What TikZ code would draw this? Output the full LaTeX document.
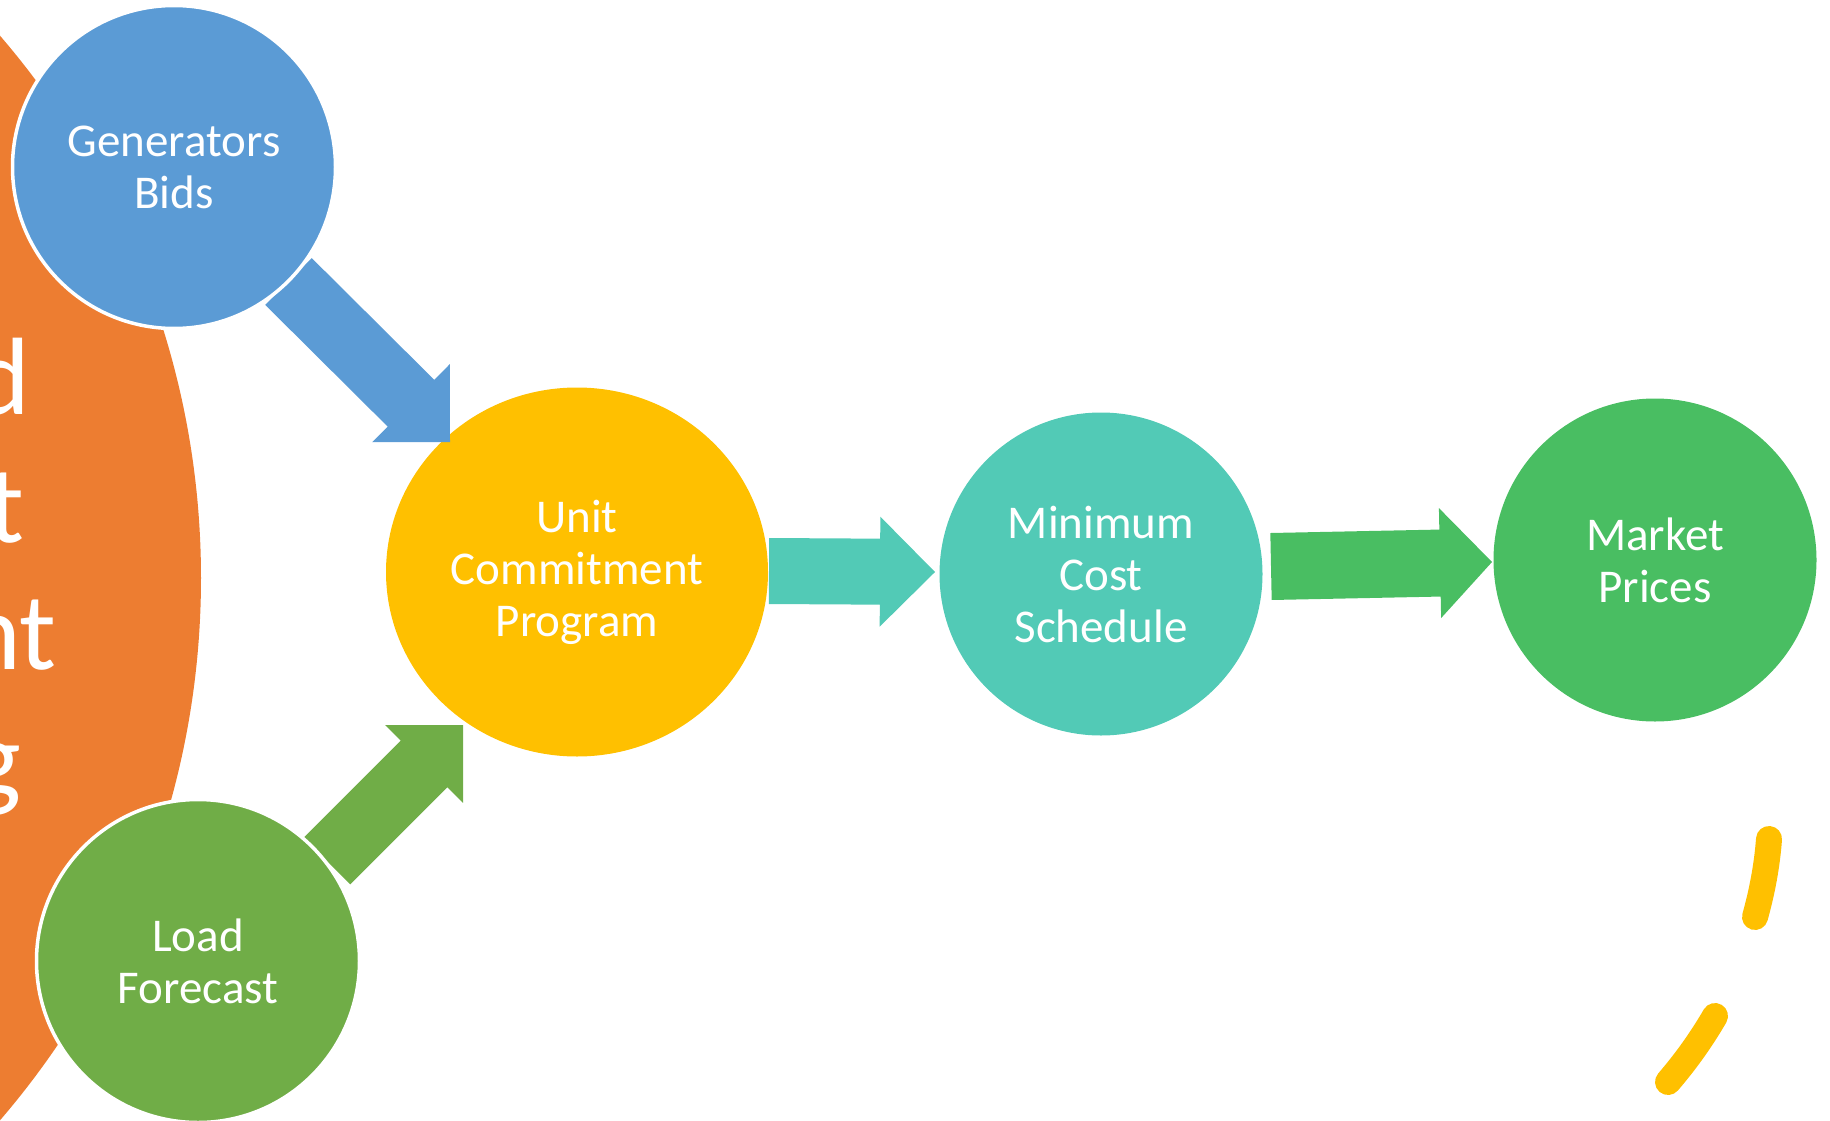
\documentclass[tikz,border=0pt]{standalone}
\usepackage{fontspec}
\setmainfont{Carlito}
\usetikzlibrary{calc,shapes.geometric}
\definecolor{corange}{HTML}{ED7D31}
\definecolor{cblue}{HTML}{5B9BD5}
\definecolor{cyellow}{HTML}{FFC000}
\definecolor{cgreen}{HTML}{70AD47}
\definecolor{cteal}{RGB}{82,202,182}
\definecolor{cmgreen}{RGB}{73,190,98}
% #1 name, #2 tail, #3 tip, #4 shaft half width, #5 head half width, #6 head length, #7 colour
\newcommand{\blockarr}[7]{%
  \coordinate (#1h) at ($(#3)!#6!(#2)$);
  \fill[#7] ($(#2)!#4!90:(#3)$) -- ($(#1h)!#4!90:(#3)$) -- ($(#1h)!#5!90:(#3)$)
    -- (#3) -- ($(#1h)!#5!-90:(#3)$) -- ($(#1h)!#4!-90:(#3)$) -- ($(#2)!#4!-90:(#3)$) -- cycle;
}
\begin{document}
\begin{tikzpicture}[x=1pt,y=-1pt,
  bubble/.style={circle, inner sep=0pt, text=white, align=center,
    font=\fontsize{47}{52}\selectfont, minimum size=323pt},
  bigtxt/.style={anchor=base east, inner sep=0pt, text=white,
    font=\fontsize{110}{127}\selectfont},
  dashline/.style={draw=cyellow, line width=26pt, line cap=round}]
\useasboundingbox (0,0) rectangle (1830,1121);
% big orange circle with clipped title
\fill[corange] (-631,578) circle[radius=832pt];
\node[bigtxt] (t1) at (30,414) {d};
\node[bigtxt] (t2) at (25,542) {t};
\node[bigtxt] (t3) at (57,669) {nt};
\node[bigtxt] (t4) at (21,796) {g};
% main nodes
\node[ellipse, fill=cyellow, inner sep=0pt, text=white, align=center,
  font=\fontsize{47}{52}\selectfont, minimum width=382pt, minimum height=369pt]
  (unit) at (577,572) {Unit\\Commitment\\Program};
\node[bubble, fill=cteal] (mincost) at (1101,574) {Minimum\\Cost\\Schedule};
\node[bubble, fill=cmgreen] (market) at (1655,560) {Market\\Prices};
% block arrows
\coordinate (a1t) at (288.5,281.5); \coordinate (a1p) at (450,442);
\coordinate (a2t) at (327,861);     \coordinate (a2p) at (463,725);
\coordinate (a3t) at (769,571);     \coordinate (a3p) at (935,572);
\coordinate (a4t) at (1271,566.5);  \coordinate (a4p) at (1492,562);
\blockarr{a1}{a1t}{a1p}{33pt}{55pt}{55pt}{cblue}
\blockarr{a2}{a2t}{a2p}{33pt}{55pt}{55pt}{cgreen}
\blockarr{a3}{a3t}{a3p}{33pt}{55pt}{55pt}{cteal}
\blockarr{a4}{a4t}{a4p}{33.5pt}{55pt}{52pt}{cmgreen}
% input bubbles
\node[bubble, fill=cblue, draw=white, line width=3.5pt] (gen) at (174,167) {Generators\\Bids};
\node[bubble, fill=cgreen, draw=white, line width=3.5pt] (load) at (198,961) {Load\\Forecast};
% yellow dashes
\draw[dashline] (1769,839) .. controls (1767,866) and (1762,892) .. (1755,917);
\draw[dashline] (1715,1016) .. controls (1701,1040) and (1686,1061) .. (1668,1082);
\end{tikzpicture}
\end{document}
